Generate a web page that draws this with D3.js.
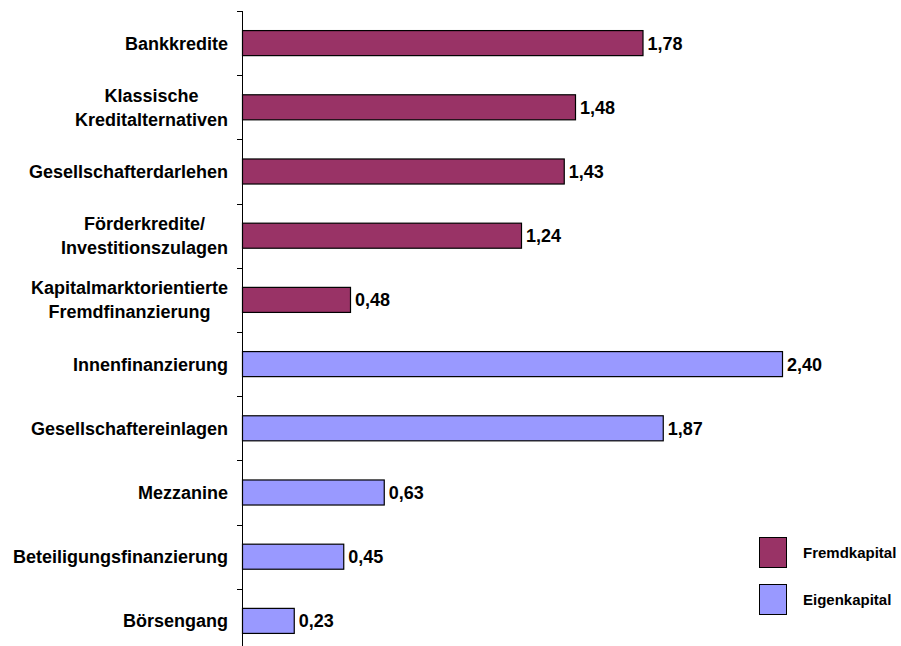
<!DOCTYPE html>
<html>
<head>
<meta charset="utf-8">
<title>Finanzierungsformen</title>
<style>
  body { margin: 0; background: #fff; }
  .label { font-family: "Liberation Sans", Arial, sans-serif; font-size: 18px; font-weight: bold; fill: #000; }
  .value { font-family: "Liberation Sans", Arial, sans-serif; font-size: 18px; font-weight: bold; fill: #000; }
  .legend text { font-family: "Liberation Sans", Arial, sans-serif; font-size: 15px; font-weight: bold; fill: #000; }
</style>
<script src="https://cdn.jsdelivr.net/npm/d3@7"></script>
</head>
<body>
<script>
// categories top to bottom, "\n" splits lines
var categories = ["Bankkredite", "Klassische\nKreditalternativen", "Gesellschafterdarlehen",
                  "Förderkredite/\nInvestitionszulagen", "Kapitalmarktorientierte\nFremdfinanzierung",
                  "Innenfinanzierung", "Gesellschaftereinlagen", "Mezzanine",
                  "Beteiligungsfinanzierung", "Börsengang"];
var values = [1.78, 1.48, 1.43, 1.24, 0.48, 2.40, 1.87, 0.63, 0.45, 0.23];
var groups = ["Fremdkapital", "Fremdkapital", "Fremdkapital", "Fremdkapital", "Fremdkapital",
              "Eigenkapital", "Eigenkapital", "Eigenkapital", "Eigenkapital", "Eigenkapital"];
var legendItems = ["Fremdkapital", "Eigenkapital"];

var data = categories.map(function(c, i) { return {cat: c, value: values[i], group: groups[i]}; });

var width = 901, height = 646;
var x0 = 242;

var svg = d3.select("body").append("svg")
    .attr("width", width)
    .attr("height", height);

var x = d3.scaleLinear().domain([0, 2.4]).range([x0, x0 + 540]);
var y = d3.scaleBand().domain(categories).range([11, 653]).paddingInner(0.61).paddingOuter(0.305);
var color = d3.scaleOrdinal().domain(legendItems).range(["#993366", "#9999ff"]);

// axis line with ticks at band boundaries
var step = y.step();
var bounds = d3.range(categories.length + 1).map(function(i) { return 11 + i * step; });
svg.append("line")
   .attr("x1", x0 + 0.5).attr("x2", x0 + 0.5)
   .attr("y1", 11).attr("y2", 653)
   .attr("stroke", "#000").attr("stroke-width", 1);
svg.selectAll(".tick")
   .data(bounds)
   .enter().append("line")
   .attr("class", "tick")
   .attr("x1", x0 - 5).attr("x2", x0 + 0.5)
   .attr("y1", function(d) { return Math.round(d) + 0.5; })
   .attr("y2", function(d) { return Math.round(d) + 0.5; })
   .attr("stroke", "#000");

// bars
svg.selectAll(".bar")
   .data(data)
   .enter().append("rect")
   .attr("class", "bar")
   .attr("x", x0 + 0.5)
   .attr("y", function(d) { return y(d.cat); })
   .attr("width", function(d) { return x(d.value) - x0; })
   .attr("height", y.bandwidth())
   .attr("fill", function(d) { return color(d.group); })
   .attr("stroke", "#000")
   .attr("stroke-width", 1.2);

// value labels
svg.selectAll(".value")
   .data(data)
   .enter().append("text")
   .attr("class", "value")
   .attr("x", function(d) { return x(d.value) + 5; })
   .attr("y", function(d) { return y(d.cat) + y.bandwidth() / 2 + 6.5; })
   .text(function(d) { return d3.format(".2f")(d.value).replace(".", ","); });

// category labels: block right aligned, lines centered to each other
var labelRight = 228, lineH = 24;
data.forEach(function(d) {
  var lines = d.cat.split("\n");
  var cy = y(d.cat) + y.bandwidth() / 2;
  var t = svg.append("text").attr("class", "label");
  lines.forEach(function(l, j) {
    t.append("tspan").text(l)
     .attr("y", cy + 6.5 + (j - (lines.length - 1) / 2) * lineH);
  });
  var maxW = 0;
  t.selectAll("tspan").each(function() { maxW = Math.max(maxW, this.getComputedTextLength()); });
  t.attr("text-anchor", "middle");
  t.selectAll("tspan").attr("x", labelRight - maxW / 2);
});

// legend
var legend = svg.append("g").attr("class", "legend");
legendItems.forEach(function(name, i) {
  var ly = 537 + i * 47;
  legend.append("rect")
        .attr("x", 759.5).attr("y", ly + 0.5)
        .attr("width", 27).attr("height", 30)
        .attr("fill", color(name))
        .attr("stroke", "#000").attr("stroke-width", 1);
  legend.append("text")
        .attr("x", 803).attr("y", ly + 21)
        .text(name);
});
</script>
</body>
</html>
